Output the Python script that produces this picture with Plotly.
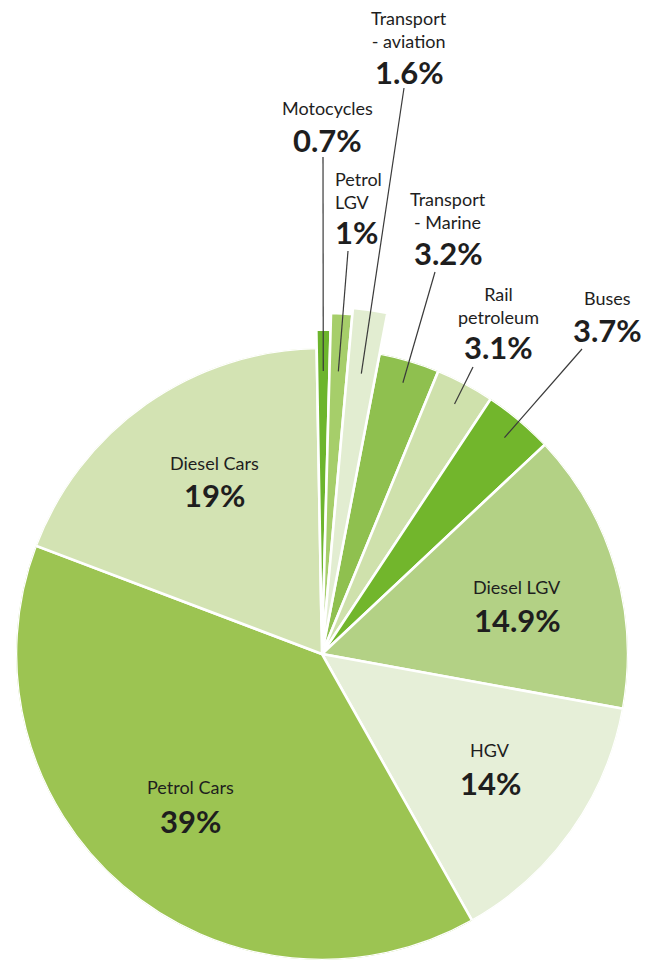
import math
import plotly.graph_objects as go

# Road-transport emission shares, clockwise from 12 o'clock
categories = [
    "Motocycles", "Petrol LGV", "Transport - aviation", "Transport - Marine",
    "Rail petroleum", "Buses", "Diesel LGV", "HGV", "Petrol Cars", "Diesel Cars",
]
shares = [0.7, 1, 1.6, 3.2, 3.1, 3.7, 14.9, 14, 39, 19]
value_labels = ["0.7%", "1%", "1.6%", "3.2%", "3.1%", "3.7%", "14.9%", "14%", "39%", "19%"]
name_labels = [
    "Motocycles", "Petrol<br>LGV", "Transport<br>- aviation", "Transport<br>- Marine",
    "Rail<br>petroleum", "Buses", "Diesel LGV", "HGV", "Petrol Cars", "Diesel Cars",
]

# ---- styling -------------------------------------------------------------
slice_colors = [
    "#6db52d", "#a6ce6a", "#e2edd1", "#8fc04f", "#cfe1ac",
    "#72b62c", "#b3d185", "#e6efd8", "#9cc452", "#d3e3b3",
]
# thin slices are drawn a little longer so they stand out
reach = {"Motocycles": 1.06, "Petrol LGV": 1.115, "Transport - aviation": 1.135}

W, H = 646, 960            # canvas
CX, CY, R = 322, 654, 306  # pie centre and radius in pixels
START = -1.0               # first slice starts this many degrees clockwise of 12 o'clock
ROTATION = 90 - START      # plotly angular-axis rotation (theta 0 position)

FONT = "Lato"
TEXT_COLOR = "#1e1e1e"
NAME_SIZE = 18
VALUE_SIZE = 31
BORDER = 2.6

# label placement in pixels: (x, name y, value y, x-anchor)
label_pos = {
    "Motocycles": (327, 108, 140, "center"),
    "Petrol LGV": (333, 190, 232, "left"),
    "Transport - aviation": (409, 29, 72, "center"),
    "Transport - Marine": (448, 210, 253, "center"),
    "Rail petroleum": (498, 305, 347, "center"),
    "Buses": (607, 298, 330, "center"),
    "Diesel LGV": (517, 587, 620, "center"),
    "HGV": (490, 750, 783, "center"),
    "Petrol Cars": (190, 787, 821, "center"),
    "Diesel Cars": (214, 463, 495, "center"),
}
# outer end of the leader lines for the small slices (pixels)
leader_end = {
    "Motocycles": (323, 157),
    "Petrol LGV": (348, 251),
    "Transport - aviation": (404, 88),
    "Transport - Marine": (435, 272),
    "Rail petroleum": (473, 367),
    "Buses": (582, 349),
}
LEADER_R = 0.925

# ---- geometry ------------------------------------------------------------
total = sum(shares)
spans = [360.0 * s / total for s in shares]
starts = []
acc = 0.0
for sp in spans:
    starts.append(acc)
    acc += sp
mids = [st + sp / 2 for st, sp in zip(starts, spans)]

long_idx = [i for i, c in enumerate(categories) if c in reach]
long_r = [reach[categories[i]] for i in long_idx]
RMAX = max(long_r) + 0.01


def px_to_xy(px, py):
    return (px - CX) / R, (CY - py) / R


def polar_to_xy(r, theta):
    a = math.radians(theta + START)
    return r * math.sin(a), r * math.cos(a)


def sector_bbox(s0, s1):
    """Unit-radius bounding box of a polar sector (same rules plotly uses)."""
    arc = s1 - s0
    a0 = s0 % 360
    a1 = a0 + arc
    ax0, ax1 = math.cos(math.radians(a0)), math.cos(math.radians(a1))
    ay0, ay1 = math.sin(math.radians(a0)), math.sin(math.radians(a1))

    def crosses(a):
        return (a0 <= a <= a1) or (a0 <= a + 360 <= a1)

    x0 = -1 if crosses(180) else (0 if ax0 >= 0 and ax1 >= 0 else min(ax0, ax1))
    x1 = 1 if crosses(0) or crosses(360) else (0 if ax0 <= 0 and ax1 <= 0 else max(ax0, ax1))
    y0 = -1 if crosses(270) else (0 if ay0 >= 0 and ay1 >= 0 else min(ay0, ay1))
    y1 = 1 if crosses(90) else (0 if ay0 <= 0 and ay1 <= 0 else max(ay0, ay1))
    return x0, y0, x1, y1


# second polar subplot: a narrow sector around the long slices, with a
# larger radial range but sharing the main pie's centre and scale
theta_lo = starts[long_idx[0]]
theta_hi = starts[long_idx[-1]] + spans[long_idx[-1]]
sector = [ROTATION - theta_hi - 2.5, ROTATION - theta_lo + 2.5]
bx0, by0, bx1, by1 = sector_bbox(*sector)
rad2 = R * RMAX
dom2_x = [(CX + rad2 * bx0) / W, (CX + rad2 * bx1) / W]
dom2_y = [(H - (CY - rad2 * by0)) / H, (H - (CY - rad2 * by1)) / H]

fig = go.Figure()

# full pie
fig.add_trace(go.Barpolar(
    r=[1.0] * len(categories),
    theta=mids,
    width=spans,
    base=0,
    marker=dict(color=slice_colors, line=dict(color="white", width=BORDER)),
    customdata=value_labels,
    text=categories,
    hovertemplate="%{text}: %{customdata}<extra></extra>",
    showlegend=False,
    subplot="polar",
))
# longer thin slices
fig.add_trace(go.Barpolar(
    r=long_r,
    theta=[mids[i] for i in long_idx],
    width=[spans[i] for i in long_idx],
    base=0,
    marker=dict(color=[slice_colors[i] for i in long_idx],
                line=dict(color="white", width=BORDER)),
    customdata=[value_labels[i] for i in long_idx],
    text=[categories[i] for i in long_idx],
    hovertemplate="%{text}: %{customdata}<extra></extra>",
    showlegend=False,
    subplot="polar2",
))
# cartesian frame (pie-radius units) used to place labels and leader lines
fig.add_trace(go.Scatter(
    x=[0], y=[0], mode="markers", marker=dict(size=1, opacity=0),
    hoverinfo="skip", showlegend=False,
))

annotations = []
shapes = []
for cat, name, val, mid in zip(categories, name_labels, value_labels, mids):
    lx, ny, vy, anchor = label_pos[cat]
    x_name, y_name = px_to_xy(lx, ny)
    x_val, y_val = px_to_xy(lx, vy)
    annotations.append(dict(
        x=x_name, y=y_name, xref="x", yref="y", text=name, showarrow=False,
        xanchor=anchor, yanchor="middle", align=anchor,
        font=dict(family=FONT, size=NAME_SIZE, color=TEXT_COLOR),
    ))
    annotations.append(dict(
        x=x_val, y=y_val, xref="x", yref="y", text="<b>%s</b>" % val, showarrow=False,
        xanchor=anchor, yanchor="middle",
        font=dict(family=FONT, size=VALUE_SIZE, color=TEXT_COLOR),
    ))
    if cat in leader_end:
        x0, y0 = polar_to_xy(LEADER_R, mid)
        x1, y1 = px_to_xy(*leader_end[cat])
        shapes.append(dict(
            type="line", xref="x", yref="y", x0=x0, y0=y0, x1=x1, y1=y1,
            line=dict(color="#3a3a3a", width=1.2), layer="above",
        ))

hidden_angular = dict(visible=False, rotation=ROTATION, direction="clockwise")

fig.update_layout(
    width=W, height=H,
    margin=dict(l=0, r=0, t=0, b=0),
    paper_bgcolor="white",
    plot_bgcolor="rgba(0,0,0,0)",
    showlegend=False,
    polar=dict(
        domain=dict(x=[(CX - R) / W, (CX + R) / W], y=[(H - CY - R) / H, (H - CY + R) / H]),
        bgcolor="rgba(0,0,0,0)",
        bargap=0,
        radialaxis=dict(range=[0, 1], visible=False),
        angularaxis=hidden_angular,
    ),
    polar2=dict(
        domain=dict(x=dom2_x, y=dom2_y),
        sector=sector,
        bgcolor="rgba(0,0,0,0)",
        bargap=0,
        radialaxis=dict(range=[0, RMAX], visible=False),
        angularaxis=hidden_angular,
    ),
    xaxis=dict(range=[-CX / R, (W - CX) / R], visible=False, fixedrange=True, domain=[0, 1]),
    yaxis=dict(range=[(CY - H) / R, CY / R], visible=False, fixedrange=True, domain=[0, 1]),
    annotations=annotations,
    shapes=shapes,
)

fig.write_html("out.html")
